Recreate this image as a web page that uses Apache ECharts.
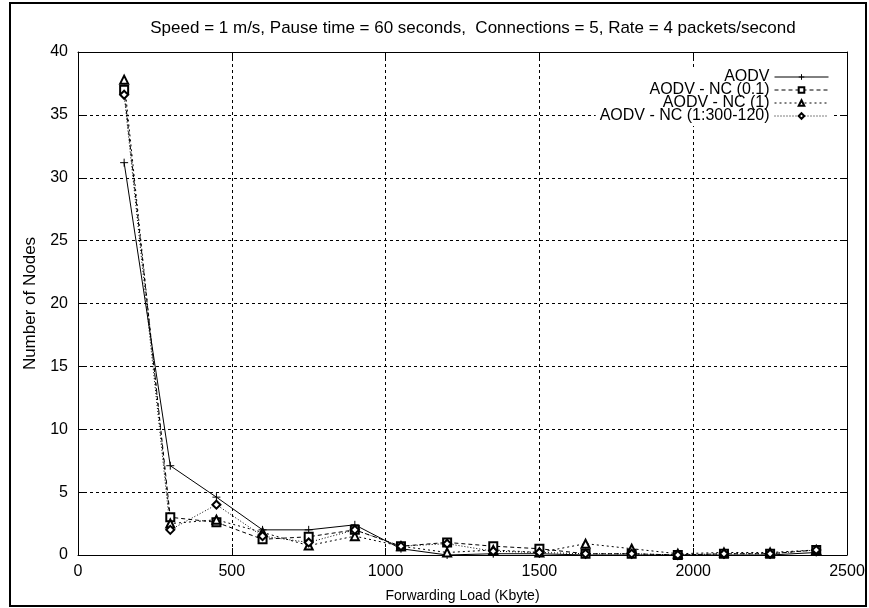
<!DOCTYPE html>
<html>
<head>
<meta charset="utf-8">
<script src="https://cdn.jsdelivr.net/npm/echarts@6/dist/echarts.min.js"></script>
<style>
html,body{margin:0;padding:0;background:#fff;}
#chart{width:869px;height:608px;}
</style>
</head>
<body>
<div id="chart"></div>
<script>
var titleText = 'Speed = 1 m/s, Pause time = 60 seconds,  Connections = 5, Rate = 4 packets/second';
var xName = 'Forwarding Load (Kbyte)';
var yName = 'Number of Nodes';
var forwardingLoad = [150, 300, 450, 600, 750, 900, 1050, 1200, 1350, 1500, 1650, 1800, 1950, 2100, 2250, 2400];
var seriesNames = ['AODV', 'AODV - NC (0.1)', 'AODV - NC (1)', 'AODV - NC (1:300-120)'];
var aodv   = [31.2, 7.1, 4.6, 2.0, 2.0, 2.4, 0.5, 0.0, 0.1, 0.1, 0.0, 0.0, 0.0, 0.0, 0.0, 0.2];
var nc01   = [37.0, 3.0, 2.6, 1.25, 1.45, 2.0, 0.7, 1.0, 0.7, 0.5, 0.1, 0.1, 0.0, 0.1, 0.1, 0.4];
var nc1    = [37.8, 2.5, 2.8, 1.8, 0.75, 1.5, 0.7, 0.2, 0.4, 0.2, 0.9, 0.5, 0.1, 0.2, 0.2, 0.4];
var nc1300 = [36.6, 2.0, 4.0, 1.5, 1.0, 2.0, 0.7, 0.9, 0.3, 0.2, 0.1, 0.1, 0.0, 0.1, 0.1, 0.4];

function pairs(ys) { return forwardingLoad.map(function (x, i) { return [x, ys[i]]; }); }

var FONT = 'Liberation Sans, Arial, sans-serif';
var chart = echarts.init(document.getElementById('chart'), null, {renderer: 'canvas'});

function mkSeries(name, ys, symbol, dash) {
  return {
    name: name, type: 'line', data: pairs(ys),
    symbol: symbol, symbolSize: 8, xAxisIndex: 0, yAxisIndex: 0,
    lineStyle: {color: '#000', width: 1, type: dash},
    itemStyle: {color: '#000', borderColor: '#000', borderWidth: 1},
    emphasis: {disabled: true},
    animation: false
  };
}

var gridLine = {show: true, lineStyle: {color: '#000', width: 1, type: [3, 3]}};

chart.setOption({
  animation: false,
  backgroundColor: '#fff',
  textStyle: {fontFamily: FONT},
  title: {
    text: titleText, left: 468, top: 15, textAlign: 'center',
    textStyle: {fontFamily: FONT, fontSize: 17, fontWeight: 'normal', color: '#000'}
  },
  graphic: [{
    type: 'rect', shape: {x: 10, y: 3, width: 856, height: 603},
    style: {fill: 'none', stroke: '#000', lineWidth: 2}, silent: true, z: 100
  }],
  legend: {
    orient: 'vertical', right: 38, top: 67, align: 'right',
    itemWidth: 54, itemHeight: 7, itemGap: -3,
    backgroundColor: '#fff', padding: [2, 2, 2, 4],
    lineStyle: {width: 1},
    itemStyle: {borderWidth: 1},
    textStyle: {fontFamily: FONT, fontSize: 16, color: '#000', lineHeight: 15},
    data: seriesNames
  },
  grid: {left: 78, right: 22, top: 52, bottom: 52},
  xAxis: [{
    type: 'value', min: 0, max: 2500, interval: 500,
    name: xName, nameLocation: 'middle', nameGap: 34,
    nameTextStyle: {fontFamily: FONT, fontSize: 14, color: '#000'},
    axisLine: {show: true, onZero: false, lineStyle: {color: '#000', width: 1}},
    axisTick: {show: true, inside: true, length: 7, lineStyle: {color: '#000'}},
    axisLabel: {fontFamily: FONT, fontSize: 16, color: '#000', margin: 9,
      formatter: function (v) { return String(v); }},
    splitLine: gridLine
  }, {
    type: 'value', min: 0, max: 2500, interval: 500, position: 'top',
    axisLine: {show: true, onZero: false, lineStyle: {color: '#000', width: 1}},
    axisTick: {show: true, inside: true, length: 7, lineStyle: {color: '#000'}},
    axisLabel: {show: false}, splitLine: {show: false}
  }],
  yAxis: [{
    type: 'value', min: 0, max: 40, interval: 5,
    name: yName, nameLocation: 'middle', nameGap: 37, nameRotate: 90,
    nameTextStyle: {fontFamily: FONT, fontSize: 17, color: '#000'},
    axisLine: {show: true, onZero: false, lineStyle: {color: '#000', width: 1}},
    axisTick: {show: true, inside: true, length: 7, lineStyle: {color: '#000'}},
    axisLabel: {fontFamily: FONT, fontSize: 16, color: '#000', margin: 10},
    splitLine: gridLine
  }, {
    type: 'value', min: 0, max: 40, interval: 5, position: 'right',
    axisLine: {show: true, onZero: false, lineStyle: {color: '#000', width: 1}},
    axisTick: {show: true, inside: true, length: 7, lineStyle: {color: '#000'}},
    axisLabel: {show: false}, splitLine: {show: false}
  }],
  series: [
    mkSeries(seriesNames[0], aodv, 'path://M5,0L5,10M0,5L10,5', 'solid'),
    mkSeries(seriesNames[1], nc01, 'emptyRect', [4, 3]),
    mkSeries(seriesNames[2], nc1, 'emptyTriangle', [2, 3]),
    mkSeries(seriesNames[3], nc1300, 'emptyDiamond', [1, 2])
  ]
});
</script>
</body>
</html>
